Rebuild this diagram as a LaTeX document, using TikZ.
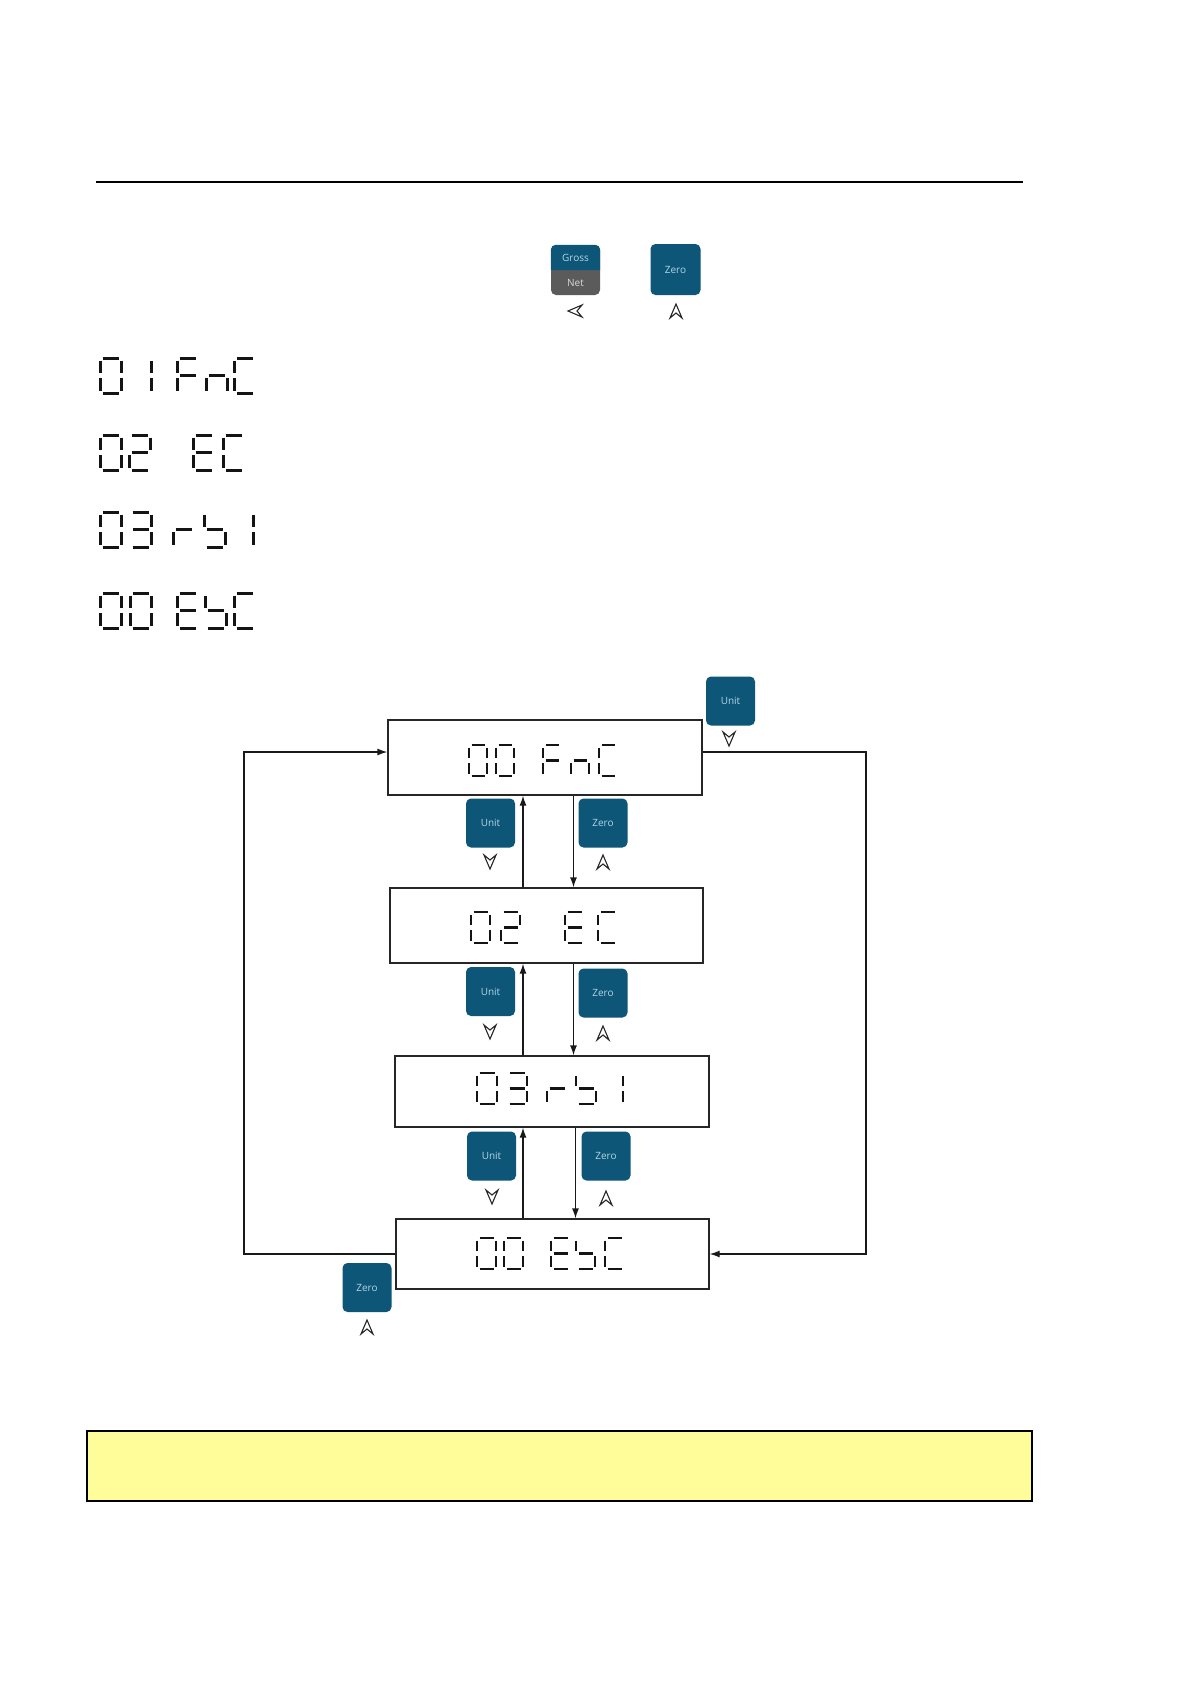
\documentclass[tikz,border=0pt]{standalone}
\usepackage{fontspec}
\setmainfont{Open Sans}
\usetikzlibrary{arrows.meta,calc}
\definecolor{keyblue}{HTML}{0D5677}
\definecolor{keytext}{HTML}{B3D5E6}
\definecolor{keygray}{HTML}{5B5B5B}
\definecolor{noteyellow}{HTML}{FEFD99}
\def\sgap{2.5}
\def\seglw{3}
% seven-segment pieces: x, y(top), width, height
\newcommand\sgA[4]{\draw[lcdseg] (#1+\sgap,#2) -- (#1+#3-\sgap,#2);}
\newcommand\sgB[4]{\draw[lcdseg] (#1+#3,#2+\sgap) -- (#1+#3,#2+#4/2-\sgap);}
\newcommand\sgC[4]{\draw[lcdseg] (#1+#3,#2+#4/2+\sgap) -- (#1+#3,#2+#4-\sgap);}
\newcommand\sgD[4]{\draw[lcdseg] (#1+\sgap,#2+#4) -- (#1+#3-\sgap,#2+#4);}
\newcommand\sgE[4]{\draw[lcdseg] (#1,#2+#4/2+\sgap) -- (#1,#2+#4-\sgap);}
\newcommand\sgF[4]{\draw[lcdseg] (#1,#2+\sgap) -- (#1,#2+#4/2-\sgap);}
\newcommand\sgG[4]{\draw[lcdseg] (#1+\sgap,#2+#4/2) -- (#1+#3-\sgap,#2+#4/2);}
\newcommand\segs[5]{\foreach \s in {#5}{\csname sg\s\endcsname{#1}{#2}{#3}{#4}}}
\newcommand\chZero[4]{\segs{#1}{#2}{#3}{#4}{A,B,C,D,E,F}}
\newcommand\chOne[4]{\segs{#1}{#2}{#3}{#4}{B,C}}
\newcommand\chTwo[4]{\segs{#1}{#2}{#3}{#4}{A,B,G,E,D}}
\newcommand\chThree[4]{\segs{#1}{#2}{#3}{#4}{A,B,G,C,D}}
\newcommand\chF[4]{\segs{#1}{#2}{#3}{#4}{A,F,G,E}}
\newcommand\chN[4]{\segs{#1}{#2}{#3}{#4}{E,G,C}}
\newcommand\chC[4]{\segs{#1}{#2}{#3}{#4}{A,F,E,D}}
\newcommand\chE[4]{\segs{#1}{#2}{#3}{#4}{A,F,G,E,D}}
\newcommand\chR[4]{\segs{#1}{#2}{#3}{#4}{E,G}}
\newcommand\chS[4]{\segs{#1}{#2}{#3}{#4}{F,G,C,D}}
% row: y, w, h, list of x/char
\newcommand\lcdrow[4]{\foreach \xx/\cc in {#4}{\csname ch\cc\endcsname{\xx}{#1}{#2}{#3}}}
\newcommand\navarrow[3]{\draw[navglyph, shift={(#1,#2)}, rotate=#3] (0,-7) -- (6,7) -- (0,2) -- (-6,7) -- cycle;}
\begin{document}
\begin{tikzpicture}[x=1pt,y=-1pt,
  lcdseg/.style={line width=\seglw pt, black!92},
  keybtn/.style={rectangle, rounded corners=5pt, fill=keyblue, minimum width=49pt, minimum height=49pt, inner sep=0pt, text=keytext, font=\fontsize{10}{12}\selectfont},
  keytxt/.style={inner sep=0pt, font=\fontsize{10}{12}\selectfont},
  lcdbox/.style={rectangle, draw=black!85, line width=1.3pt, inner sep=0pt},
  conn/.style={line width=1.3pt, black!90},
  arr/.style={conn, -{Latex[length=10pt,width=7pt]}},
  navglyph/.style={line width=1.1pt, line join=miter, black!85}]
\useasboundingbox[fill=white] (0,0) rectangle (1191,1684);

% top rule
\coordinate (ruleL) at (96,182);
\coordinate (ruleR) at (1023,182);
\draw[line width=1.4pt] (ruleL) -- (ruleR);

% top keys
\node[keybtn, fill=keygray, minimum width=49pt, minimum height=50pt] (gn) at (575.5,270) {};
\fill[keyblue, rounded corners=5pt] (gn.west) -- (gn.north west) -- (gn.north east) -- (gn.east);
\node[keytxt, text=keytext] (gntxt) at (575.5,257.5) {Gross};
\node[keytxt, text=black!15] (nettxt) at (575.5,282.5) {Net};
\navarrow{575}{311}{90}
\node[keybtn, minimum width=50pt, minimum height=51pt] (zt) at (675.5,269.5) {Zero};
\navarrow{676}{311}{0}

% left list
\def\seglw{3}
\lcdrow{358}{21}{35}{100/Zero,130/One,177/F,206/N,234/C}
\lcdrow{435}{21}{35}{100/Zero,129/Two,193/E,223/C}
\lcdrow{512}{21}{35}{100/Zero,130/Three,173/R,204/S,232/One}
\lcdrow{593}{21}{35}{100/Zero,130/Zero,177/E,205/S,234/C}

% flow boxes
\node[lcdbox, minimum width=314pt, minimum height=75pt] (b1) at (545,757.5) {};
\node[lcdbox, minimum width=313pt, minimum height=75pt] (b2) at (546.5,925.5) {};
\node[lcdbox, minimum width=314pt, minimum height=71pt] (b3) at (552,1091.5) {};
\node[lcdbox, minimum width=313pt, minimum height=70pt] (b4) at (552.5,1254) {};

\def\seglw{2.6}
\lcdrow{745}{18}{31}{469/Zero,496/Zero,543/F,571/N,599/C}
\lcdrow{912}{19}{31}{471/Zero,501/Two,565/E,598/C}
\lcdrow{1073}{20}{31}{477/Zero,507/Three,547/R,576/S,603/One}
\lcdrow{1238}{19}{31}{477/Zero,504/Zero,551/E,576/S,605/C}

% vertical connectors
\coordinate (upA) at (523,0);
\coordinate (dnA) at (573.5,0);
\coordinate (dnC) at (575.5,0);
\draw[arr] (b2.north -| upA) -- (b1.south -| upA);
\draw[arr] (b1.south -| dnA) -- (b2.north -| dnA);
\draw[arr] (b3.north -| upA) -- (b2.south -| upA);
\draw[arr] (b2.south -| dnA) -- (b3.north -| dnA);
\draw[arr] (b4.north -| upA) -- (b3.south -| upA);
\draw[arr] (b3.south -| dnC) -- (b4.north -| dnC);

% outer loop
\coordinate (L) at (244,752);
\coordinate (R) at (866,752);
\draw[arr] (b4.west) -| (L) -- (L -| b1.west);
\draw[arr] (R -| b1.east) -- (R) |- (b4.east);

% keys in flow
\node[keybtn] (ku0) at (730.5,701) {Unit};
\navarrow{729}{739}{180}
\node[keybtn] (ku1) at (490.5,823) {Unit};
\navarrow{490}{862}{180}
\node[keybtn] (kz1) at (603,823) {Zero};
\navarrow{603}{862}{0}
\node[keybtn] (ku2) at (490.5,991.5) {Unit};
\navarrow{490}{1032}{180}
\node[keybtn] (kz2) at (603,993) {Zero};
\navarrow{603}{1033}{0}
\node[keybtn] (ku3) at (491.5,1156) {Unit};
\navarrow{492}{1197}{180}
\node[keybtn] (kz3) at (606,1156) {Zero};
\navarrow{606}{1198}{0}
\node[keybtn] (kz4) at (367,1287.5) {Zero};
\navarrow{367}{1327}{0}

% yellow note
\node[draw=black, line width=1.2pt, fill=noteyellow, minimum width=945pt, minimum height=70pt, inner sep=0pt] (note) at (559.5,1466) {};
\end{tikzpicture}
\end{document}
